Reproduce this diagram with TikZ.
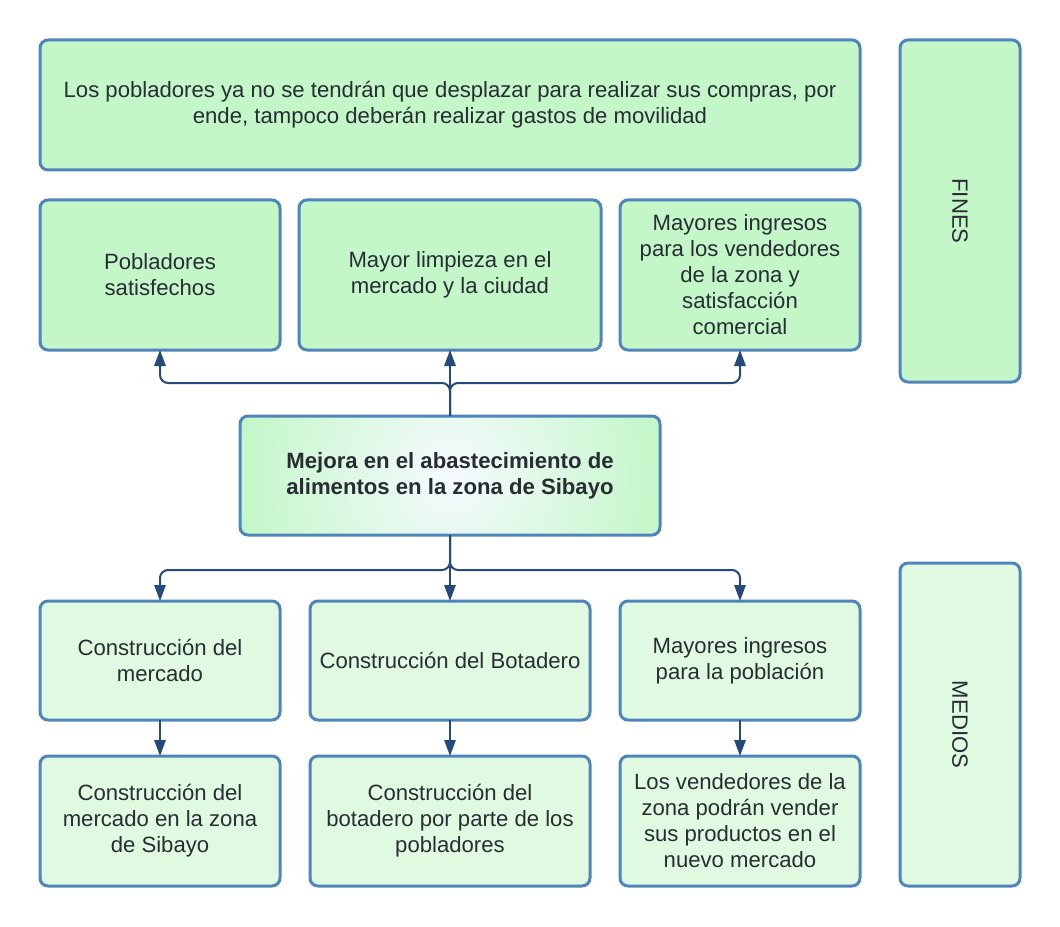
\documentclass[tikz,border=0pt]{standalone}
\usepackage{fontspec}
\setmainfont{Liberation Sans}
\definecolor{verdefin}{HTML}{C3F7C8}
\definecolor{verdemed}{HTML}{E0FAE2}
\definecolor{centro}{HTML}{F6FAFF}
\definecolor{bordeazul}{HTML}{4F85BA}
\definecolor{flechazul}{HTML}{24497A}
\definecolor{texto}{HTML}{282C33}
\usetikzlibrary{positioning,arrows.meta,calc}

\begin{document}
\begin{tikzpicture}[
    x=0.75pt, y=-0.75pt,
    font=\fontsize{16.6}{19.5}\selectfont, text=texto,
    caja/.style={rectangle, draw=bordeazul, line width=2.25pt, rounded corners=6pt,
      align=center, inner sep=4pt, outer sep=0pt},
    fin/.style={caja, fill=verdefin},
    medio/.style={caja, fill=verdemed},
    central/.style={caja, fill=verdefin,
      path picture={\shade[inner color=centro, outer color=verdefin]
        (path picture bounding box.center) circle (160pt);},
      font=\fontsize{16.6}{19.5}\selectfont\bfseries},
    flecha/.style={-{Triangle[length=12pt,width=8.5pt]}, draw=flechazul,
      line width=1.5pt, rounded corners=6pt},
    >=Stealth
  ]
    \useasboundingbox (0,0) rectangle (1060,927);

    \node[fin, minimum width=615pt, minimum height=97.5pt] (movilidad) at (450,105)
      {Los pobladores ya no se tendrán que desplazar para realizar sus compras, por\\ende, tampoco deberán realizar gastos de movilidad};
    \node[fin, minimum width=90pt, minimum height=256.5pt] (fines) at (960,211) {};
    \node[rotate=-90] at (fines.center) {FINES};

    \node[fin, minimum width=180pt, minimum height=112.5pt] (satisfechos) at (160,275)
      {Pobladores\\satisfechos};
    \node[fin, minimum width=226.5pt, minimum height=112.5pt] (limpieza) at (450,275)
      {Mayor limpieza en el\\mercado y la ciudad};
    \node[fin, minimum width=180pt, minimum height=112.5pt] (ingresos) at (740,275)
      {Mayores ingresos\\para los vendedores\\de la zona y\\satisfacción\\comercial};

    \node[central, minimum width=315pt, minimum height=89.25pt] (mejora) at (450,475.5)
      {Mejora en el abastecimiento de\\alimentos en la zona de Sibayo};

    \node[medio, minimum width=180pt, minimum height=89.25pt] (mercado) at (160,660.5)
      {Construcción del\\mercado};
    \node[medio, minimum width=210pt, minimum height=89.25pt] (botadero) at (450,660.5)
      {Construcción del Botadero};
    \node[medio, minimum width=180pt, minimum height=89.25pt] (poblacion) at (740,660.5)
      {Mayores ingresos\\para la población};

    \node[medio, minimum width=180pt, minimum height=97.5pt] (sibayo) at (160,821)
      {Construcción del\\mercado en la zona\\de Sibayo};
    \node[medio, minimum width=210pt, minimum height=97.5pt] (pobladores) at (450,821)
      {Construcción del\\botadero por parte de los\\pobladores};
    \node[medio, minimum width=180pt, minimum height=97.5pt] (vendedores) at (740,821)
      {Los vendedores de la\\zona podrán vender\\sus productos en el\\nuevo mercado};

    \node[medio, minimum width=90pt, minimum height=242.25pt] (medios) at (960,724.5) {};
    \node[rotate=-90] at (medios.center) {MEDIOS};

    \coordinate (nudofin) at (450,383);
    \coordinate (nudomed) at (450,570);

    \draw[flecha] (mejora.north) -- (nudofin) -| (satisfechos.south);
    \draw[flecha] (mejora.north) -- (limpieza.south);
    \draw[flecha] (mejora.north) -- (nudofin) -| (ingresos.south);

    \draw[flecha] (mejora.south) -- (nudomed) -| (mercado.north);
    \draw[flecha] (mejora.south) -- (botadero.north);
    \draw[flecha] (mejora.south) -- (nudomed) -| (poblacion.north);

    \draw[flecha] (mercado) -- (sibayo);
    \draw[flecha] (botadero) -- (pobladores);
    \draw[flecha] (poblacion) -- (vendedores);
  \end{tikzpicture}
\end{document}
